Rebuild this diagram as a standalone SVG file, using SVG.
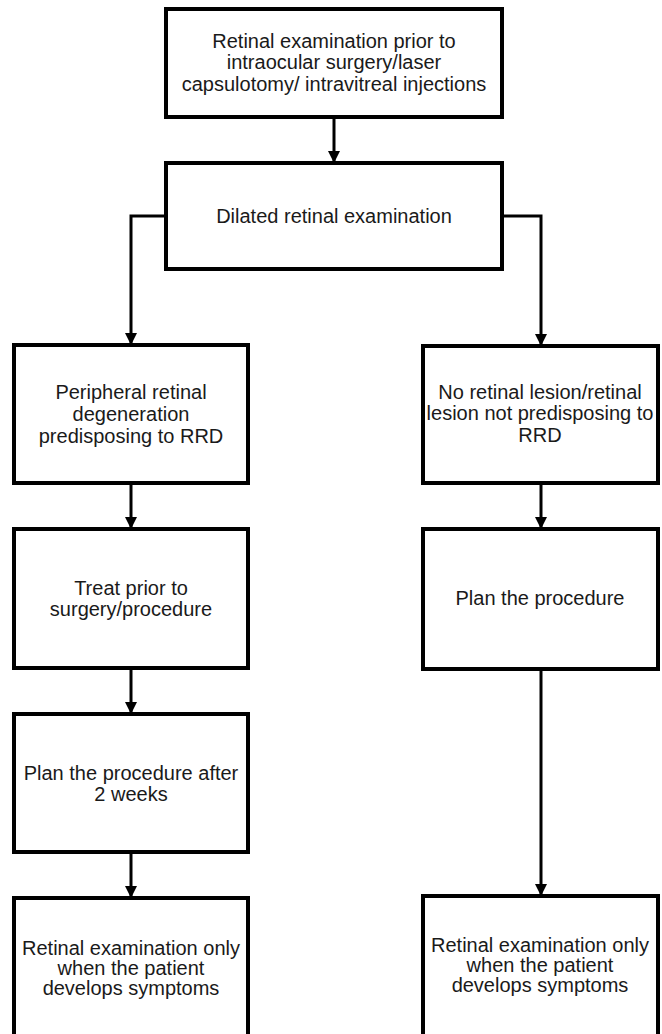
<svg xmlns="http://www.w3.org/2000/svg" width="662" height="1034" viewBox="0 0 662 1034">
<defs>
<style>
.box{fill:#fff;stroke:#000;stroke-width:4}
.lbl{font-family:"Liberation Sans",Arial,sans-serif;font-size:20px;fill:#1a1a1a;text-anchor:middle}
.con{fill:none;stroke:#000;stroke-width:3}
</style>
<marker id="ah" markerUnits="userSpaceOnUse" markerWidth="12" markerHeight="12" viewBox="0 0 12 12" refX="12" refY="6" orient="auto">
<path d="M0,0 L12,6 L0,12 Z" fill="#000"/>
</marker>
</defs>
<rect width="662" height="1034" fill="#fff"/>
<g id="connectors">
<path class="con" d="M334,117 V163" marker-end="url(#ah)"/>
<path class="con" d="M166,216 H131 V345" marker-end="url(#ah)"/>
<path class="con" d="M502,216 H541 V346" marker-end="url(#ah)"/>
<path class="con" d="M131,483 V529" marker-end="url(#ah)"/>
<path class="con" d="M131,668 V714" marker-end="url(#ah)"/>
<path class="con" d="M131,852 V898" marker-end="url(#ah)"/>
<path class="con" d="M541,483 V529" marker-end="url(#ah)"/>
<path class="con" d="M541,669 V896" marker-end="url(#ah)"/>
</g>
<g id="n_top">
<rect class="box" x="166" y="9" width="336" height="108"/>
<text class="lbl" x="334" y="48">Retinal examination prior to</text>
<text class="lbl" x="334" y="69">intraocular surgery/laser</text>
<text class="lbl" x="334" y="91">capsulotomy/ intravitreal injections</text>
</g>
<g id="n_dilated">
<rect class="box" x="166" y="163" width="336" height="106"/>
<text class="lbl" x="334" y="223">Dilated retinal examination</text>
</g>
<g id="n_peripheral">
<rect class="box" x="14" y="345" width="234" height="138"/>
<text class="lbl" x="131" y="399">Peripheral retinal</text>
<text class="lbl" x="131" y="421">degeneration</text>
<text class="lbl" x="131" y="443">predisposing to RRD</text>
</g>
<g id="n_nolesion">
<rect class="box" x="423" y="346" width="235" height="137"/>
<text class="lbl" x="540" y="399">No retinal lesion/retinal</text>
<text class="lbl" x="540" y="420">lesion not predisposing to</text>
<text class="lbl" x="540" y="442">RRD</text>
</g>
<g id="n_treat">
<rect class="box" x="14" y="529" width="234" height="139"/>
<text class="lbl" x="131" y="595">Treat prior to</text>
<text class="lbl" x="131" y="616">surgery/procedure</text>
</g>
<g id="n_plan">
<rect class="box" x="423" y="529" width="235" height="140"/>
<text class="lbl" x="540" y="605">Plan the procedure</text>
</g>
<g id="n_plan2w">
<rect class="box" x="14" y="714" width="234" height="138"/>
<text class="lbl" x="131" y="780">Plan the procedure after</text>
<text class="lbl" x="131" y="801">2 weeks</text>
</g>
<g id="n_exam_left">
<rect class="box" x="14" y="898" width="234" height="145"/>
<text class="lbl" x="131" y="955">Retinal examination only</text>
<text class="lbl" x="131" y="975">when the patient</text>
<text class="lbl" x="131" y="995">develops symptoms</text>
</g>
<g id="n_exam_right">
<rect class="box" x="423" y="896" width="235" height="147"/>
<text class="lbl" x="540" y="952">Retinal examination only</text>
<text class="lbl" x="540" y="972">when the patient</text>
<text class="lbl" x="540" y="992">develops symptoms</text>
</g>
</svg>
